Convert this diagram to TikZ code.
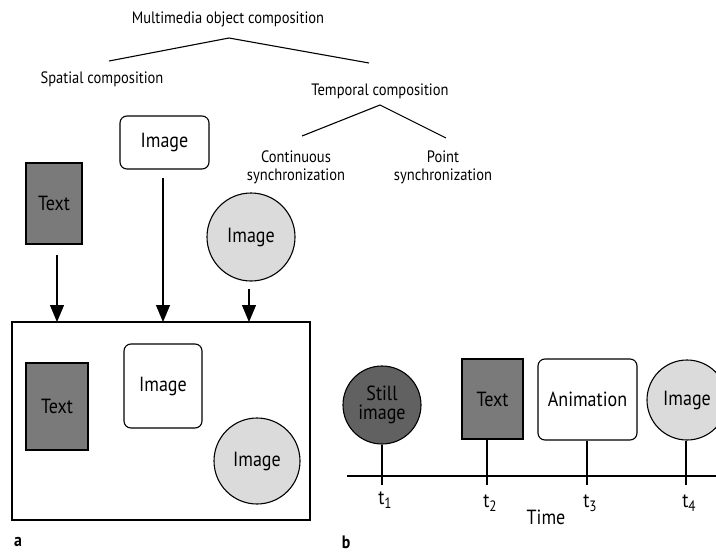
\documentclass[tikz,border=0pt]{standalone}
\usepackage{fontspec}
\setmainfont[FakeStretch=0.88]{PT Sans}
\usetikzlibrary{arrows.meta}
\newcommand{\tsub}[1]{t\raisebox{-4pt}{\fontsize{15}{15}\selectfont #1}}
\begin{document}
\begin{tikzpicture}[x=1pt,y=-1pt,
  lbl/.style={font=\fontsize{16.5}{18}\selectfont, inner sep=0pt, align=center},
  big/.style={font=\fontsize{20.5}{19}\selectfont, inner sep=0pt, align=center},
  branch/.style={line width=1.1pt},
  textbox/.style={draw, line width=1.1pt, fill=black!52, inner sep=0pt},
  imgbox/.style={draw, line width=1.1pt, rounded corners=7pt, fill=white, inner sep=0pt},
  imgcirc/.style={draw, line width=1.1pt, circle, fill=black!14, inner sep=0pt},
  stillcirc/.style={draw, line width=1.1pt, circle, fill=black!62, inner sep=0pt},
  arr/.style={line width=1.1pt, -{Triangle[length=17pt,width=14pt]}},
  stem/.style={line width=1.2pt},
  panel/.style={font=\fontsize{18}{18}\selectfont\bfseries, inner sep=1pt}
]
\useasboundingbox (0,0) rectangle (716,552);

% hierarchy of composition kinds
\node[lbl] (mmc) at (228,19) {Multimedia object composition};
\coordinate (apex1) at (229,38);
\coordinate (lend1) at (109,61);
\coordinate (rend1) at (369,63);
\draw[branch] (lend1) -- (apex1) -- (rend1);
\node[lbl] (spat) at (102,79) {Spatial composition};
\node[lbl] (temp) at (380,91) {Temporal composition};
\coordinate (apex2) at (380,105);
\coordinate (lend2) at (302,136);
\coordinate (rend2) at (446,138);
\draw[branch] (lend2) -- (apex2) -- (rend2);
\node[lbl] (cont) at (296,167) {Continuous\\synchronization};
\node[lbl] (point) at (443,167) {Point\\synchronization};

% (a) spatial composition
\node[imgbox, minimum width=89pt, minimum height=53pt] (img1) at (164.5,142.5) {};
\node[big] at (img1) {Image};
\node[textbox, minimum width=56pt, minimum height=81pt] (txt1) at (54,203.5) {};
\node[big] at (txt1) {Text};
\node[imgcirc, minimum size=88pt] (circ1) at (251,237) {};
\node[big] at (circ1) {Image};

\node[draw, line width=1.1pt, minimum width=298pt, minimum height=198pt, inner sep=0pt] (frame) at (161,421) {};

\coordinate (a1s) at (57,255);
\coordinate (a1e) at (57,322);
\coordinate (a2s) at (163,178);
\coordinate (a2e) at (163,322);
\coordinate (a3s) at (249,289);
\coordinate (a3e) at (249,322);
\draw[arr] (a1s) -- (a1e);
\draw[arr] (a2s) -- (a2e);
\draw[arr] (a3s) -- (a3e);

\node[textbox, minimum width=62pt, minimum height=87pt] (txt2) at (57,406.5) {};
\node[big] at (txt2) {Text};
\node[imgbox, minimum width=78pt, minimum height=84pt] (img2) at (163,386) {};
\node[big] at (img2) {Image};
\node[imgcirc, minimum size=86pt] (circ2) at (257,461) {};
\node[big] at (circ2) {Image};

\node[panel] (pa) at (18,542) {a};

% (b) point synchronization on a time line
\coordinate (tl0) at (347,476);
\coordinate (tl1) at (716,476);
\draw[stem] (tl0) -- (tl1);

\node[stillcirc, minimum size=78pt] (still) at (382,405) {};
\node[big] at (still) {\color{black}Still\\\color{black}image};
\node[textbox, minimum width=61pt, minimum height=80pt] (txt3) at (492.5,399) {};
\node[big] at (txt3) {Text};
\node[imgbox, minimum width=99pt, minimum height=81pt] (anim) at (587.5,399.5) {};
\node[big] at (anim) {Animation};
\node[imgcirc, minimum size=80pt] (circ3) at (687,400) {};
\node[big] at (circ3) {Image};

\coordinate (k1) at (382,485);
\coordinate (k2) at (487,485);
\coordinate (k3) at (587,485);
\coordinate (k4) at (686,485);
\draw[stem] (still.south) -- (k1);
\draw[stem] (txt3.south -| k2) -- (k2);
\draw[stem] (anim.south -| k3) -- (k3);
\draw[stem] (circ3.south -| k4) -- (k4);

\node[big] (t1) at (385,500) {\tsub{1}};
\node[big] (t2) at (490,503) {\tsub{2}};
\node[big] (t3) at (590,503) {\tsub{3}};
\node[big] (t4) at (689,503) {\tsub{4}};
\node[big] (time) at (546,517) {Time};
\node[panel] (pb) at (346,542) {b};
\end{tikzpicture}
\end{document}
